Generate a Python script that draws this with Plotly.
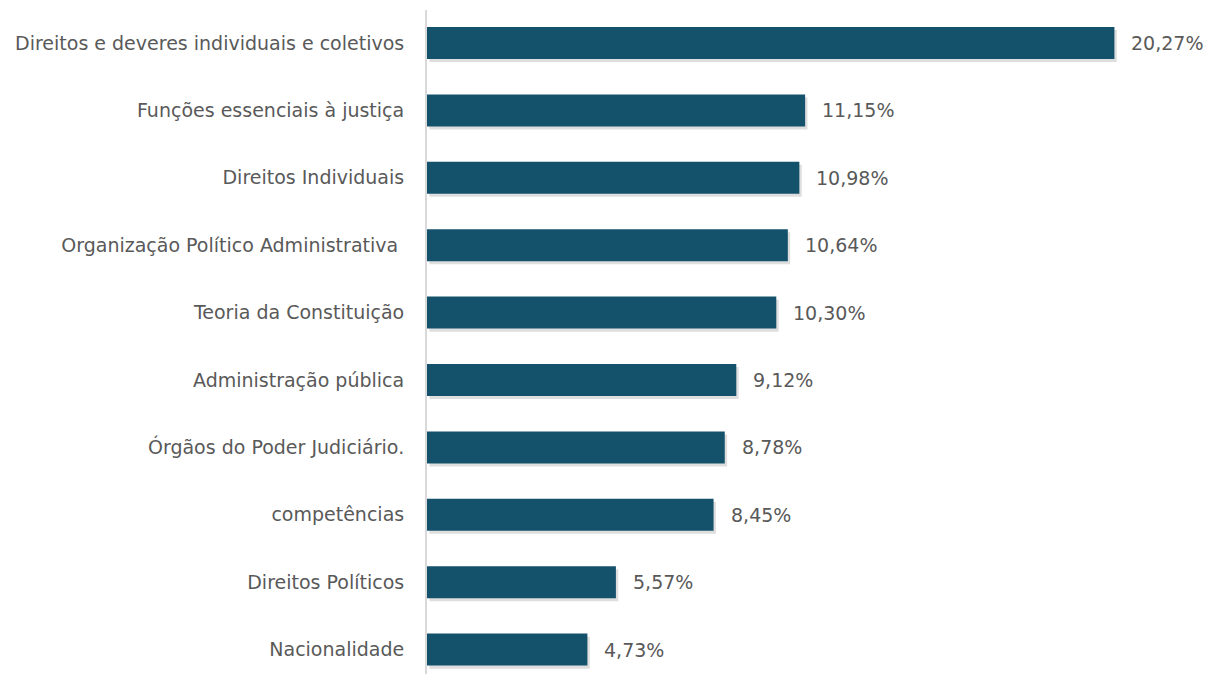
import plotly.graph_objects as go

# categories listed bottom to top
topicos = ["Nacionalidade", "Direitos Políticos", "competências",
           "Órgãos do Poder Judiciário.", "Administração pública",
           "Teoria da Constituição", "Organização Político Administrativa ",
           "Direitos Individuais", "Funções essenciais à justiça",
           "Direitos e deveres individuais e coletivos"]
percentuais = [4.73, 5.57, 8.45, 8.78, 9.12, 10.30, 10.64, 10.98, 11.15, 20.27]
rotulos = ["4,73%", "5,57%", "8,45%", "8,78%", "9,12%", "10,30%", "10,64%",
           "10,98%", "11,15%", "20,27%"]

fonte = dict(family="DejaVu Sans", size=19, color="#595959")
larg = 0.475

fig = go.Figure()
# soft drop shadow under the bars
fig.add_trace(go.Bar(x=percentuais, y=topicos, orientation="h", base=0.07,
                     width=larg, offset=-larg / 2 - 0.045,
                     marker=dict(color="rgba(0,0,0,0.13)", line=dict(width=0)),
                     hoverinfo="skip"))
fig.add_trace(go.Bar(x=percentuais, y=topicos, orientation="h",
                     width=larg, offset=-larg / 2,
                     marker=dict(color="#14516B", line=dict(width=0)),
                     hoverinfo="skip"))

for v, cat, lab in zip(percentuais, topicos, rotulos):
    fig.add_annotation(x=v, y=cat, text=lab, showarrow=False,
                       xanchor="left", xshift=15, font=fonte)

# page body has an 8px margin, so the figure is sized/offset to fit
fig.update_layout(
    width=1209, height=666,
    margin=dict(l=419, r=10, t=2, b=0),
    paper_bgcolor="white", plot_bgcolor="white",
    barmode="overlay", showlegend=False,
    font=fonte,
)
fig.update_xaxes(range=[0, 23.0], visible=False)
fig.update_yaxes(categoryorder="array", categoryarray=topicos,
                 range=[-0.362, 9.49], showline=True, linecolor="#D9D9D9",
                 linewidth=2, ticks="", showgrid=False, ticklabelstandoff=17,
                 tickfont=fonte)

fig.write_html("out.html")
